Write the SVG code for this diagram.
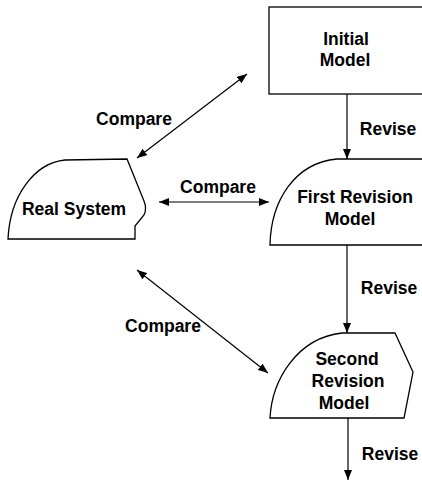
<svg xmlns="http://www.w3.org/2000/svg" width="422" height="483" viewBox="0 0 422 483">
  <style>
    .shape { fill: #ffffff; stroke: #000000; stroke-width: 1.3; }
    .label { font-family: "Liberation Sans", Arial, sans-serif; font-weight: bold; font-size: 17.5px; fill: #000000; text-anchor: middle; }
    .edge { fill: none; stroke: #000000; stroke-width: 1.2; }
  </style>
  <defs>
    <marker id="head" viewBox="0 0 10 8" refX="10" refY="4" markerWidth="10" markerHeight="8" markerUnits="userSpaceOnUse" orient="auto-start-reverse">
      <path d="M0,0 L10,4 L0,8 Z" fill="#000000"/>
    </marker>
  </defs>
  <rect width="422" height="483" fill="#ffffff"/>

  <g id="real-system">
    <path class="shape" d="M 8,239 C 10,195 35,163 65,160 L 127,159 L 144,201 C 146,206 146,211 144,215 L 135,226 L 135,239 Z"/>
    <text class="label" x="74" y="215">Real System</text>
  </g>

  <g id="initial-model">
    <rect class="shape" x="269" y="7" width="170" height="87"/>
    <text class="label" x="346" y="45">Initial</text>
    <text class="label" x="345" y="66">Model</text>
  </g>

  <g id="first-revision-model">
    <path class="shape" d="M 337,159 L 440,159 L 440,245 L 270,245 C 271,200 295,163 337,159 Z"/>
    <text class="label" x="355" y="203">First Revision</text>
    <text class="label" x="350" y="225">Model</text>
  </g>

  <g id="second-revision-model">
    <path class="shape" d="M 342,333 L 395,333 L 413,372 L 404,418 L 270,418 C 272,380 297,338 342,333 Z"/>
    <text class="label" x="347" y="365">Second</text>
    <text class="label" x="348" y="387">Revision</text>
    <text class="label" x="344" y="409">Model</text>
  </g>

  <g id="connectors">
    <line class="edge" x1="137" y1="158" x2="247" y2="74" marker-start="url(#head)" marker-end="url(#head)"/>
    <line class="edge" x1="159" y1="202" x2="269" y2="202" marker-start="url(#head)" marker-end="url(#head)"/>
    <line class="edge" x1="137" y1="270" x2="268" y2="373" marker-start="url(#head)" marker-end="url(#head)"/>
    <line class="edge" x1="347" y1="94" x2="347" y2="159" marker-end="url(#head)"/>
    <line class="edge" x1="347" y1="245" x2="347" y2="333" marker-end="url(#head)"/>
    <line class="edge" x1="348" y1="418" x2="348" y2="480" marker-end="url(#head)"/>
    <text class="label" x="134" y="125">Compare</text>
    <text class="label" x="218" y="193">Compare</text>
    <text class="label" x="163" y="332">Compare</text>
    <text class="label" x="388" y="135">Revise</text>
    <text class="label" x="389" y="294">Revise</text>
    <text class="label" x="390" y="460">Revise</text>
  </g>
</svg>
